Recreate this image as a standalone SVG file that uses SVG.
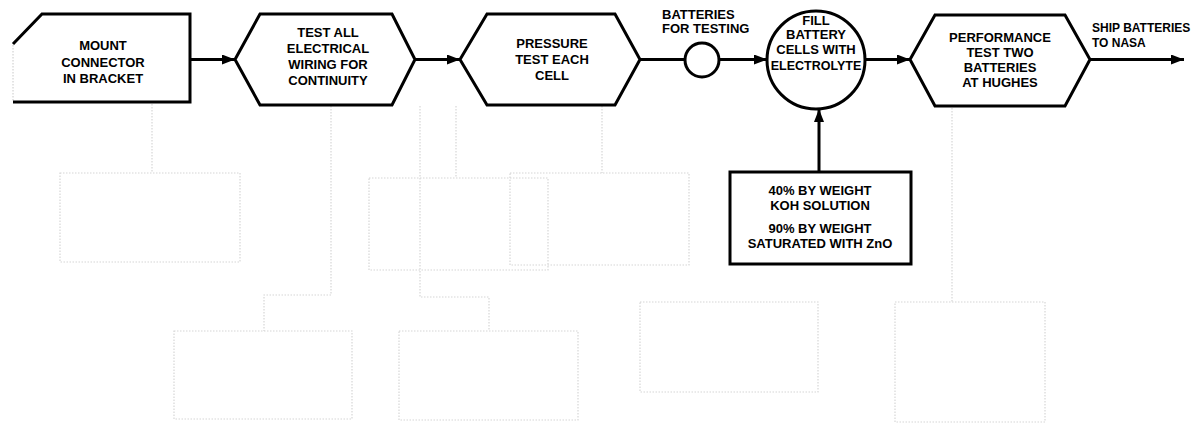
<svg xmlns="http://www.w3.org/2000/svg" width="1201" height="423" viewBox="0 0 1201 423">
<defs>
<style>
.node{fill:#fff;stroke:#000;stroke-width:3;stroke-linejoin:miter}
.lbl{font-family:"Liberation Sans",Arial,sans-serif;font-weight:bold;font-size:13px;fill:#000;text-anchor:middle}
.lblL{font-family:"Liberation Sans",Arial,sans-serif;font-weight:bold;font-size:13px;fill:#000;text-anchor:start}
.conn{fill:none;stroke:#000;stroke-width:3}
.ghost{fill:none;stroke:#d6d6d6;stroke-width:1.2;stroke-dasharray:1.5 1.5}
</style>
<marker id="arr" viewBox="0 0 13 10" refX="13" refY="5" markerWidth="13" markerHeight="10" markerUnits="userSpaceOnUse" orient="auto">
<path d="M0,0 L13,5 L0,10 Z" fill="#000"/>
</marker>
</defs>
<rect width="1201" height="423" fill="#fff"/>

<g id="bleed-through">
<line class="ghost" x1="152" y1="104" x2="152" y2="173"/>
<rect class="ghost" x="60" y="173" width="180" height="89"/>
<path class="ghost" d="M331 106 V295 H264 V331"/>
<rect class="ghost" x="174" y="331" width="178" height="88"/>
<path class="ghost" d="M420 106 V297 H489 V331"/>
<line class="ghost" x1="456" y1="106" x2="456" y2="178"/>
<rect class="ghost" x="369" y="178" width="179" height="92"/>
<rect class="ghost" x="510" y="173" width="179" height="92"/>
<line class="ghost" x1="602" y1="106" x2="602" y2="173"/>
<rect class="ghost" x="399" y="331" width="179" height="89"/>
<rect class="ghost" x="640" y="302" width="178" height="90"/>
<rect class="ghost" x="895" y="302" width="150" height="120"/>
<line class="ghost" x1="952" y1="108" x2="952" y2="302"/>
</g>

<g id="connectors">
<line class="conn" x1="190" y1="59.5" x2="235" y2="59.5" marker-end="url(#arr)"/>
<line class="conn" x1="415" y1="59.5" x2="460" y2="59.5" marker-end="url(#arr)"/>
<line class="conn" x1="640" y1="59.5" x2="685" y2="59.5"/>
<line class="conn" x1="719" y1="59.5" x2="767" y2="59.5" marker-end="url(#arr)"/>
<line class="conn" x1="865" y1="59.5" x2="910" y2="59.5" marker-end="url(#arr)"/>
<line class="conn" x1="1090" y1="59.5" x2="1184" y2="59.5" marker-end="url(#arr)"/>
<line class="conn" x1="819" y1="172" x2="819" y2="109" marker-end="url(#arr)"/>
</g>

<g id="mount-connector">
<rect x="13" y="14" width="177" height="88" fill="#fff" stroke="none"/>
<line x1="13" y1="45" x2="13" y2="101" stroke="#c8c8c8" stroke-width="1" stroke-dasharray="1.5 1.5"/>
<path d="M13 102 H190 V14 H42 L13 44" fill="none" stroke="#000" stroke-width="3" stroke-linejoin="miter"/>
<text class="lbl" x="103" y="50">MOUNT</text>
<text class="lbl" x="103" y="66.5">CONNECTOR</text>
<text class="lbl" x="103" y="82.5">IN BRACKET</text>
</g>

<g id="test-wiring">
<polygon class="node" points="235,59.5 260,14 392,14 415,59.5 392,105 260,105"/>
<text class="lbl" x="328" y="37">TEST ALL</text>
<text class="lbl" x="328" y="53">ELECTRICAL</text>
<text class="lbl" x="328" y="69">WIRING FOR</text>
<text class="lbl" x="328" y="84.5">CONTINUITY</text>
</g>

<g id="pressure-test">
<polygon class="node" points="460,59.5 487,14 615,14 640,59.5 615,105 487,105"/>
<text class="lbl" x="552" y="48">PRESSURE</text>
<text class="lbl" x="552" y="63.5">TEST EACH</text>
<text class="lbl" x="552" y="80">CELL</text>
</g>

<g id="batteries-for-testing">
<circle class="node" cx="702" cy="60" r="17"/>
<text class="lblL" x="662" y="19">BATTERIES</text>
<text class="lblL" x="662" y="33">FOR TESTING</text>
</g>

<g id="fill-electrolyte">
<circle class="node" cx="816" cy="60" r="49"/>
<text class="lbl" x="816" y="25">FILL</text>
<text class="lbl" x="816" y="39">BATTERY</text>
<text class="lbl" x="816" y="54">CELLS WITH</text>
<text class="lbl" x="816" y="70" style="font-size:12.5px">ELECTROLYTE</text>
</g>

<g id="performance-test">
<polygon class="node" points="910,59.5 935,15 1065,15 1090,59.5 1065,106 935,106"/>
<text class="lbl" x="1000" y="42">PERFORMANCE</text>
<text class="lbl" x="1000" y="57">TEST TWO</text>
<text class="lbl" x="1000" y="72">BATTERIES</text>
<text class="lbl" x="1000" y="87">AT HUGHES</text>
</g>

<g id="ship-label">
<text class="lblL" x="1092" y="32" style="font-size:12px">SHIP BATTERIES</text>
<text class="lblL" x="1092" y="47" style="font-size:12px">TO NASA</text>
</g>

<g id="electrolyte-spec">
<rect class="node" x="730" y="172" width="181" height="92"/>
<text class="lbl" x="820" y="195">40% BY WEIGHT</text>
<text class="lbl" x="820" y="210">KOH SOLUTION</text>
<text class="lbl" x="820" y="233">90% BY WEIGHT</text>
<text class="lbl" x="820" y="248">SATURATED WITH ZnO</text>
</g>
</svg>
